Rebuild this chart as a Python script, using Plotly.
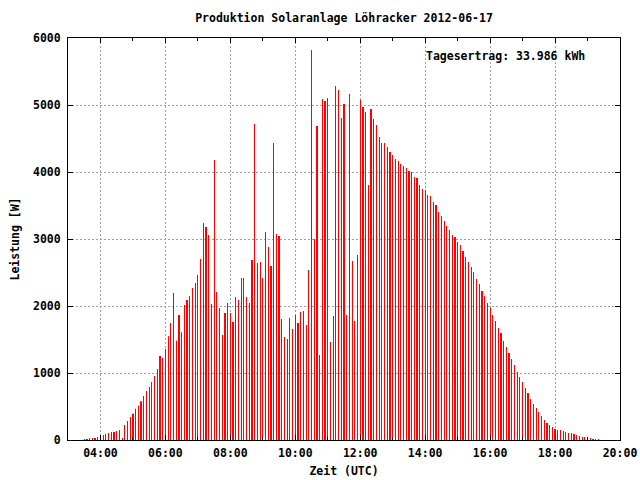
import pandas as pd
import plotly.graph_objects as go

# 5-minute samples, 03:30 .. 19:20 UTC on 2012-06-17
start_time = "2012-06-17 03:30"
n_samples = 191
times = pd.date_range(start_time, periods=n_samples, freq="5min")

power_early = [15, 15, 20, 30, 30, 45, 60, 75, 90, 105, 120, 120, 135, 150, 30,
               225, 285, 345, 390, 465, 510, 580, 655, 730, 790, 865, 955, 1060,
               1255, 1225, 1360, 1550, 1745, 2195, 1480, 1865, 1610, 2015, 2090]
power_morning = [2149, 2269, 2343, 2463, 2701, 3239, 3179, 3060, 2030, 4179,
                 2209, 1970, 1567, 1896, 2045, 1896, 1761, 2134, 2090, 2418,
                 2418, 2134, 2045, 2687, 4716, 2642, 2657, 2418, 3104, 2881,
                 2597, 4433, 3075, 3045, 1806, 1537, 1507, 1821, 1657, 1866]
power_noon = [1746, 1910, 1925, 1716, 2537, 5821, 3000, 4687, 1269, 5090,
              5060, 5104, 1463, 1851, 5284, 5224, 4806, 5015, 1866, 5164,
              2672, 1776, 2761, 5075, 4970, 4896, 3806, 4940, 4791, 4701,
              4522, 4433, 4433, 4373, 4299, 4254, 4194, 4164, 4119, 4090]
power_afternoon = [4060, 4015, 4000, 3925, 3910, 3806, 3746, 3731, 3657, 3642,
                   3552, 3507, 3403, 3343, 3269, 3194, 3134, 3060, 3030, 2955,
                   2910, 2821, 2731, 2657, 2582, 2507, 2403, 2328, 2224, 2149,
                   2045, 1970, 1866, 1776, 1672, 1597, 1478, 1388, 1299, 1209]
power_evening = [1119, 1015, 940, 866, 776, 701, 612, 537, 478, 418, 358, 298,
                 254, 224, 194, 164, 149, 149, 134, 119, 104, 104, 90, 75, 60,
                 45, 45, 30, 30, 15, 15, 15]

power = power_early + power_morning + power_noon + power_afternoon + power_evening

title_text = "Produktion Solaranlage Löhracker 2012-06-17"
x_title = "Zeit (UTC)"
y_title = "Leistung [W]"
yield_text = "Tagesertrag: 33.986 kWh"

FONT = "DejaVu Sans Mono"
font = dict(family=FONT, size=11.5, color="black", weight="bold")

fig = go.Figure()
fig.add_trace(go.Bar(
    x=times, y=power, width=20000,
    marker=dict(color="#ff0000", line=dict(width=0)),
    showlegend=False, hoverinfo="skip",
))

grid = dict(showgrid=True, gridcolor="#a0a0a0", griddash="2px,2px", gridwidth=1)

fig.update_layout(
    width=640, height=480,
    paper_bgcolor="white", plot_bgcolor="white",
    margin=dict(l=68, r=20, t=38, b=40, autoexpand=False),
    font=font,
    title=dict(text=title_text, x=0.5, xref="paper", xanchor="center",
               y=1 - 18 / 480, yanchor="middle", font=font, automargin=False),
    xaxis=dict(
        type="date", automargin=False,
        range=["2012-06-17 03:00", "2012-06-17 20:00"],
        tick0="2012-06-17 00:00", dtick=7200000, tickformat="%H:%M",
        ticks="inside", ticklen=5, tickcolor="black", tickwidth=1,
        showline=True, linecolor="black", linewidth=1, mirror="ticks",
        minor=dict(dtick=3600000, ticks="inside", ticklen=3, tickcolor="black", showgrid=False),
        zeroline=False,
        tickfont=font, ticklabelstandoff=2,
        title=dict(text=x_title, font=font, standoff=8),
        **grid,
    ),
    yaxis=dict(
        automargin=False,
        range=[0, 6000], dtick=1000,
        ticks="inside", ticklen=5, tickcolor="black", tickwidth=1,
        showline=True, linecolor="black", linewidth=1, mirror="ticks",
        zeroline=False,
        tickfont=font, ticklabelstandoff=4,
        title=dict(text=y_title, font=font, standoff=10),
        **grid,
    ),
    annotations=[dict(
        text=yield_text, xref="paper", yref="paper",
        x=(424 - 68) / 552, y=(440 - 56) / 402,
        xanchor="left", yanchor="middle", showarrow=False, font=font,
    )],
)

fig.write_html(
    "out.html",
    config={"displayModeBar": False},
    post_script="document.body.style.margin='0';document.body.style.overflow='hidden';",
)
